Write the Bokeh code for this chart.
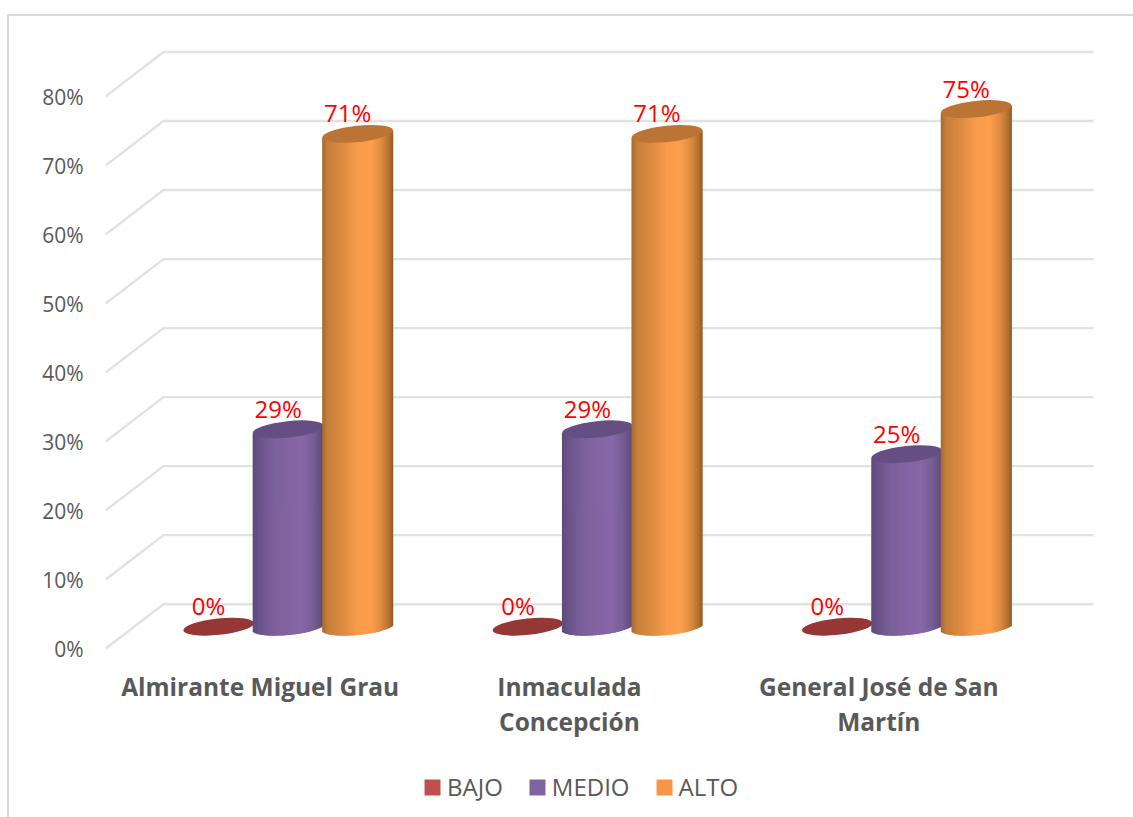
import numpy as np
from bokeh.core.properties import value
from bokeh.embed import file_html
from bokeh.layouts import column
from bokeh.models import FixedTicker, Legend, LegendItem, PrintfTickFormatter, Range1d
from bokeh.plotting import figure
from bokeh.resources import INLINE

categories = ["Almirante Miguel Grau", "Inmaculada\nConcepción", "General José de San\nMartín"]
bajo = [0.0, 0.0, 0.0]
medio = [28.6, 28.6, 25.0]
alto = [71.4, 71.4, 75.0]
bajo_labels = ["0%", "0%", "0%"]
medio_labels = ["29%", "29%", "25%"]
alto_labels = ["71%", "71%", "75%"]
y_ticks = [0, 10, 20, 30, 40, 50, 60, 70, 80]

W, H, H_LEG = 1133, 771, 46
PX_CAT = 309.3
PX_PCT = 6.9
FRAME_L = 105
ZERO_Y = 648
Y_MIN = -2.0
FRAME_B = H - (ZERO_Y + (-Y_MIN) * PX_PCT)
X_MAX = (W - FRAME_L) / PX_CAT - 0.5
Y_MAX = ZERO_Y / PX_PCT
DEPTH_X = 58 / PX_CAT
DEPTH_Y = 44.5 / PX_PCT
RX, RY, TILT = 35.5, 8.2, np.deg2rad(6.0)

edge_bg = ("linear-gradient(#d9d9d9,#d9d9d9) 7px 14px/2px 100% no-repeat,"
           "linear-gradient(#d9d9d9,#d9d9d9) 7px 14px/100% 2px no-repeat")
p = figure(width=W, height=H, output_backend="svg", toolbar_location=None,
           x_range=Range1d(-0.5, X_MAX), y_range=Range1d(Y_MIN, Y_MAX),
           min_border_left=FRAME_L, min_border_top=0, min_border_right=0,
           min_border_bottom=int(FRAME_B), outline_line_color=None,
           background_fill_color=None, border_fill_color=None,
           styles={"background": edge_bg})
p.grid.visible = False

ax = p.yaxis[0]
ax.ticker = FixedTicker(ticks=y_ticks)
ax.formatter = PrintfTickFormatter(format="%d%%")
ax.axis_line_color = None
ax.major_tick_line_color = None
ax.minor_tick_line_color = None
ax.major_label_standoff = 16
ax.major_label_text_font = "Open Sans"
ax.major_label_text_font_size = "21px"
ax.major_label_text_color = "#595959"

bx = p.xaxis[0]
bx.ticker = FixedTicker(ticks=[0, 1, 2])
bx.major_label_overrides = {i: c for i, c in enumerate(categories)}
bx.axis_line_color = None
bx.major_tick_line_color = None
bx.minor_tick_line_color = None
bx.major_label_standoff = 1
bx.major_label_text_font = "Open Sans"
bx.major_label_text_font_style = "bold"
bx.major_label_text_font_size = "24.5px"
bx.major_label_text_color = "#595959"
bx.major_label_text_line_height = 1.08

p.multi_line(xs=[[-0.5, -0.5 + DEPTH_X, X_MAX - 40 / PX_CAT] for _ in y_ticks],
             ys=[[v, v + DEPTH_Y, v + DEPTH_Y] for v in y_ticks],
             line_color="#e2e2e2", line_width=2.4)

STOPS = [0, .08, .3, .5, .7, .85, .95, 1]
def ramp(cols):
    rgb = np.array([[int(c[i:i + 2], 16) for i in (1, 3, 5)] for c in cols], float)
    def f(t):
        return ["#%02x%02x%02x" % tuple(int(round(np.interp(u, STOPS, rgb[:, k]))) for k in range(3)) for u in t]
    return f

series = [
    ("BAJO", bajo, bajo_labels, -41.5, "#C0504D", "#953735", None),
    ("MEDIO", medio, medio_labels, 28.0, "#8064A2", "#654F82",
     ramp(["#5c4a7a", "#695388", "#7c619b", "#8364a2", "#8767a8", "#775e96", "#665083", "#5a4673"])),
    ("ALTO", alto, alto_labels, 97.5, "#F79646", "#BC7434",
     ramp(["#a66a2e", "#c67f3c", "#de8c42", "#f99c4b", "#fc9e4c", "#d98840", "#b0702f", "#8f5a26"])),
]

tt = np.linspace(0, 2 * np.pi, 721)
ex = RX * np.cos(tt) * np.cos(TILT) - RY * np.sin(tt) * np.sin(TILT)
ey = RX * np.cos(tt) * np.sin(TILT) + RY * np.sin(tt) * np.cos(TILT)
N = 71
edges = np.linspace(-RX, RX, N + 1)
mids = (edges[:-1] + edges[1:]) / 2
lower = np.array([ey[np.abs(ex - m) < 1.0].min() for m in mids])
centre = mids * np.tan(TILT)
base = 22 / PX_PCT

leg_fig = figure(width=W, height=H_LEG, output_backend="svg", toolbar_location=None,
                 x_range=Range1d(0, 1), y_range=Range1d(0, 1), min_border=0,
                 outline_line_color=None, background_fill_color=None, border_fill_color=None,
                 styles={"background": "linear-gradient(#d9d9d9,#d9d9d9) 7px 0/2px 100% no-repeat"})
leg_fig.axis.visible = False
leg_fig.grid.visible = False

legend_items = []
for name, vals, labels, off, col, capcol, grad in series:
    cx = np.arange(3) + off / PX_CAT
    tops = np.array(vals) + base
    if grad is not None:
        colors = grad((mids + RX) / (2 * RX))
        L, R, T, B, C = [], [], [], [], []
        for c, top in zip(cx, tops):
            L += list(c + edges[:-1] / PX_CAT)
            R += list(c + np.minimum(edges[1:] + 1.0, RX) / PX_CAT)
            T += list(top + centre / PX_PCT)
            B += list(base + lower / PX_PCT)
            C += colors
        p.quad(left=L, right=R, top=T, bottom=B, fill_color=C, line_color=None)
    p.ellipse(x=cx, y=tops, width=2 * RX / PX_CAT, height=2 * RY / PX_PCT, angle=TILT,
              fill_color=capcol, line_color=None)
    p.text(x=cx, y=tops, text=labels, x_offset=-10, y_offset=-21, text_align="center",
           text_baseline="middle", text_color="#ff0000", text_font=value("Open Sans"),
           text_font_size="24px")
    swatch = leg_fig.quad(left=[2], right=[3], top=[3], bottom=[2], fill_color=col, line_color=None)
    legend_items.append(LegendItem(label=name, renderers=[swatch]))

legend = Legend(items=legend_items, orientation="horizontal", location=(317, 14),
                border_line_color=None, background_fill_alpha=0,
                label_text_font="Open Sans", label_text_font_size="24px", label_text_color="#595959",
                glyph_width=20, glyph_height=20, label_standoff=5, spacing=24, margin=0, padding=0)
leg_fig.add_layout(legend, "center")

open("out.html", "w").write(file_html(column(p, leg_fig, spacing=0), INLINE))
